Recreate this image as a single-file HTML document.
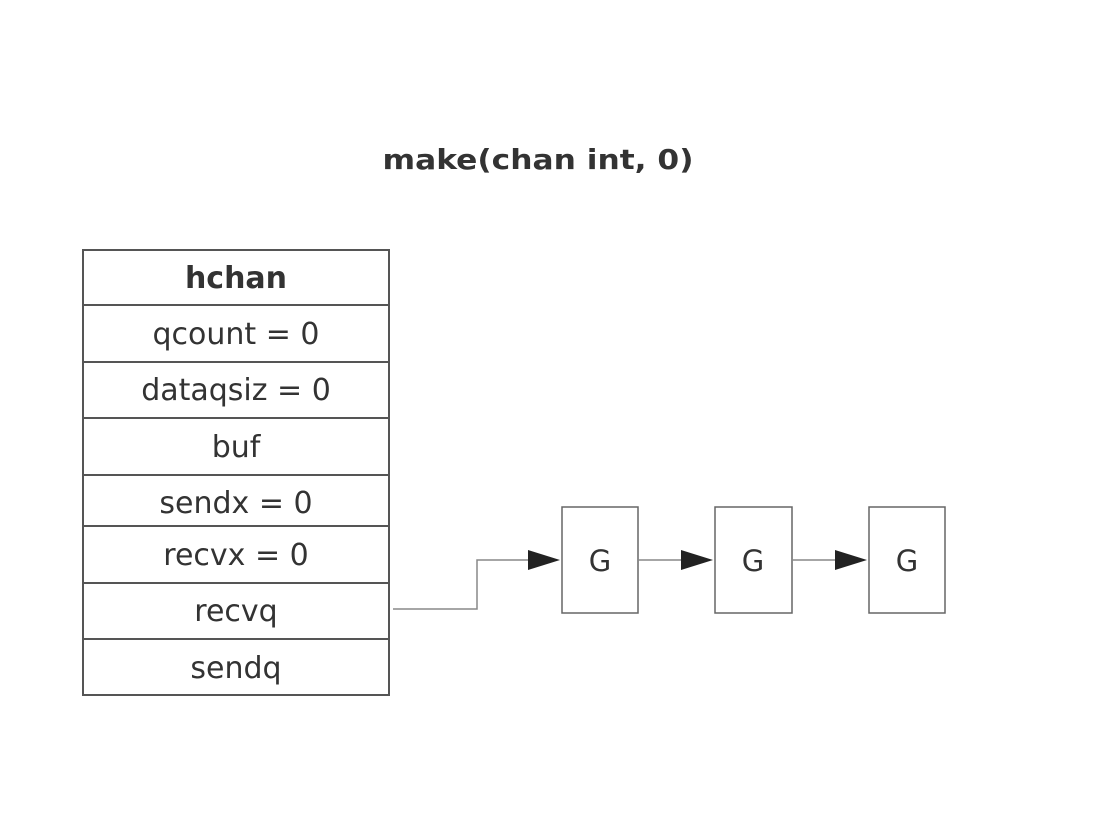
<!DOCTYPE html>
<html><head><meta charset="utf-8"><style>
html,body{margin:0;padding:0;background:#fff;}
</style></head><body>
<svg width="1112" height="818" xmlns="http://www.w3.org/2000/svg" font-family="'DejaVu Sans','Liberation Sans',sans-serif" fill="#333">
<rect width="1112" height="818" fill="#fff"/>
<text x="538" y="169" text-anchor="middle" font-size="28" font-weight="bold" fill="#333" textLength="311" lengthAdjust="spacingAndGlyphs">make(chan int, 0)</text>
<g stroke="#555" stroke-width="2" fill="none">
<rect x="83" y="250" width="306" height="445"/>
<line x1="83" y1="305" x2="389" y2="305"/>
<line x1="83" y1="362" x2="389" y2="362"/>
<line x1="83" y1="418" x2="389" y2="418"/>
<line x1="83" y1="475" x2="389" y2="475"/>
<line x1="82" y1="526" x2="390" y2="526"/>
<line x1="83" y1="583" x2="389" y2="583"/>
<line x1="83" y1="639" x2="389" y2="639"/>
</g>
<g font-size="30" text-anchor="middle" fill="#333">
<text x="236" y="288" font-weight="bold">hchan</text>
<text x="236" y="344">qcount = 0</text>
<text x="236" y="400">dataqsiz = 0</text>
<text x="236" y="457">buf</text>
<text x="236" y="513">sendx = 0</text>
<text x="236" y="565">recvx = 0</text>
<text x="236" y="621">recvq</text>
<text x="236" y="678">sendq</text>
</g>
<g stroke="#666" stroke-width="1.5" fill="#fff">
<rect x="562" y="507" width="76" height="106"/>
<rect x="715" y="507" width="77" height="106"/>
<rect x="869" y="507" width="76" height="106"/>
</g>
<g stroke="#888" stroke-width="1.5" fill="none">
<polyline points="393,609 477,609 477,560 530,560"/>
<line x1="638" y1="560" x2="683" y2="560"/>
<line x1="792" y1="560" x2="837" y2="560"/>
</g>
<g fill="#222">
<polygon points="528,550 560,560 528,570"/>
<polygon points="681,550 713,560 681,570"/>
<polygon points="835,550 867,560 835,570"/>
</g>
<g font-size="29" text-anchor="middle" fill="#333">
<text x="600" y="571">G</text>
<text x="753" y="571">G</text>
<text x="907" y="571">G</text>
</g>
</svg>
</body></html>
